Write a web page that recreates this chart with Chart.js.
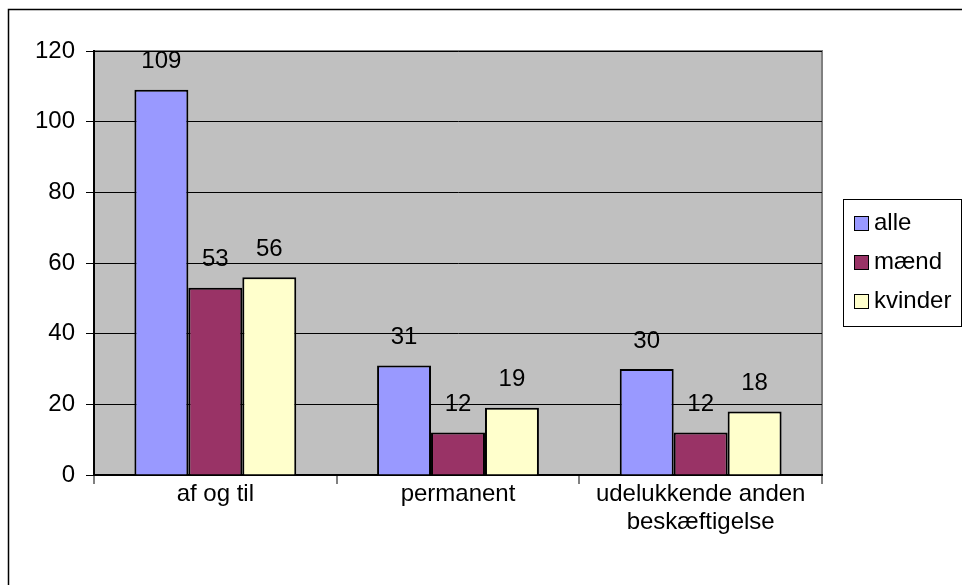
<!DOCTYPE html>
<html>
<head>
<meta charset="utf-8">
<script src="https://cdn.jsdelivr.net/npm/chart.js@4"></script>
<style>
  html, body { margin: 0; padding: 0; background: #fff; }
  #wrap { width: 962px; height: 585px; position: relative; }
</style>
</head>
<body>
<div id="wrap"><canvas id="chart" width="962" height="585"></canvas></div>
<script>
const categories = ['af og til', 'permanent', ['udelukkende anden', 'beskæftigelse']];
const seriesNames = ['alle', 'mænd', 'kvinder'];
const alle = [109, 31, 30];
const maend = [53, 12, 12];
const kvinder = [56, 19, 18];
const yTicks = [0, 20, 40, 60, 80, 100, 120];

const colors = ['#9999FF', '#993366', '#FFFFCC'];
const FONT = 'Arial, "Liberation Sans", sans-serif';

// gray plot background + outer frame
const frame = {
    id: 'frame',
    beforeDraw(chart) {
        const { ctx, chartArea: a } = chart;
        ctx.save();
        ctx.fillStyle = '#fff';
        ctx.fillRect(0, 0, chart.width, chart.height);
        ctx.strokeStyle = '#000';
        ctx.lineWidth = 1.5;
        ctx.beginPath();
        ctx.moveTo(8.5, chart.height);
        ctx.lineTo(8.5, 9.5);
        ctx.lineTo(chart.width, 9.5);
        ctx.stroke();
        ctx.fillStyle = '#C0C0C0';
        ctx.fillRect(a.left, a.top, a.right - a.left, a.bottom - a.top);
        ctx.strokeStyle = '#808080';
        ctx.lineWidth = 2;
        ctx.beginPath();
        ctx.moveTo(a.left, a.top);
        ctx.lineTo(a.right, a.top);
        ctx.lineTo(a.right, a.bottom);
        ctx.stroke();
        ctx.restore();
    }
};

// values above bars + legend box
const labelsAndLegend = {
    id: 'labelsAndLegend',
    afterDatasetsDraw(chart) {
        const ctx = chart.ctx;
        ctx.save();
        ctx.font = '24px ' + FONT;
        ctx.fillStyle = '#000';
        ctx.textAlign = 'center';
        ctx.textBaseline = 'middle';
        chart.data.datasets.forEach((ds, i) => {
            chart.getDatasetMeta(i).data.forEach((bar, j) => {
                ctx.fillText(String(ds.data[j]), bar.x, bar.y - 28);
            });
        });
        // legend
        ctx.strokeStyle = '#000';
        ctx.lineWidth = 1;
        ctx.fillStyle = '#fff';
        ctx.fillRect(843.5, 199.5, 118, 127);
        ctx.strokeRect(843.5, 199.5, 118, 127);
        ctx.textAlign = 'left';
        seriesNames.forEach((name, i) => {
            const cy = 223 + i * 39;
            ctx.fillStyle = colors[i];
            ctx.fillRect(854.5, cy - 6.5, 14, 14);
            ctx.strokeRect(854.5, cy - 6.5, 14, 14);
            ctx.fillStyle = '#000';
            ctx.fillText(name, 874, cy);
        });
        ctx.restore();
    }
};

new Chart(document.getElementById('chart'), {
    type: 'bar',
    data: {
        labels: categories,
        datasets: [
            { label: seriesNames[0], data: alle },
            { label: seriesNames[1], data: maend },
            { label: seriesNames[2], data: kvinder }
        ].map((d, i) => Object.assign(d, {
            backgroundColor: colors[i],
            borderColor: '#000',
            borderWidth: 2,
            borderSkipped: 'bottom',
            barPercentage: 1,
            categoryPercentage: 0.667
        }))
    },
    options: {
        responsive: false,
        animation: false,
        layout: { padding: { top: 51, right: 140, left: 0, bottom: 0 } },
        plugins: { legend: { display: false }, tooltip: { enabled: false } },
        scales: {
            x: {
                afterFit: s => { s.height = 110; },
                grid: { drawOnChartArea: false, drawTicks: true, tickLength: 9, color: '#808080', lineWidth: 2 },
                border: { color: '#000', width: 2 },
                ticks: { color: '#000', font: { size: 24, family: FONT, lineHeight: 1.17 }, padding: -4, maxRotation: 0 }
            },
            y: {
                min: 0,
                max: 120,
                afterFit: s => { s.width = 94; },
                afterBuildTicks: s => { s.ticks = yTicks.map(v => ({ value: v })); },
                grid: { color: '#000', lineWidth: 1, tickLength: 8 },
                border: { color: '#000', width: 2 },
                ticks: { color: '#000', font: { size: 24, family: FONT }, padding: 11 }
            }
        }
    },
    plugins: [frame, labelsAndLegend]
});
</script>
</body>
</html>
